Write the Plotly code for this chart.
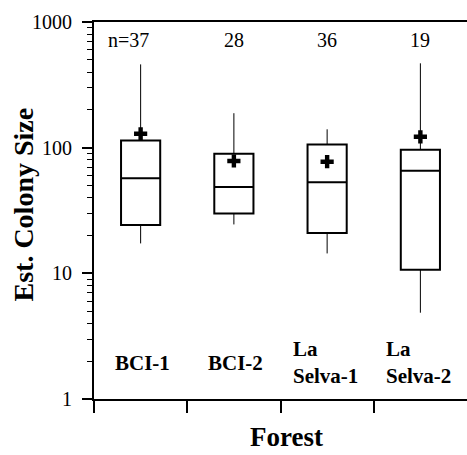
import numpy as np
import plotly.graph_objects as go

# Estimated colony size per forest plot (log scale summary statistics)
forests = ["BCI-1", "BCI-2", "La<br>Selva-1", "La<br>Selva-2"]
n_counts = [37, 28, 36, 19]
upper_whisker = [460, 188, 140, 469]
q3 = [114, 89.5, 106, 96.4]
median = [57, 48.7, 53, 65.6]
q1 = [24.3, 30, 20.9, 10.7]
lower_whisker = [17.3, 24.5, 14.4, 4.86]
mean = [129, 78.3, 77.3, 122]

y_tickvals = [1, 10, 100, 1000]
y_ticktext = ["1", "10", "100", "1000"]

FONT = "Liberation Serif"
pos = list(range(len(forests)))

fig = go.Figure()

# Boxes (quartiles + median)
for i in pos:
    fig.add_trace(go.Box(
        x=[i], q1=[q1[i]], median=[median[i]], q3=[q3[i]],
        lowerfence=[q1[i]], upperfence=[q3[i]],
        width=0.42, whiskerwidth=0,
        line=dict(color="black", width=2),
        fillcolor="white", boxpoints=False, showlegend=False,
        hoverinfo="skip",
    ))

# Whiskers drawn as thin lines
wx, wy = [], []
for i in pos:
    wx += [i, i, None, i, i, None]
    wy += [q3[i], upper_whisker[i], None, q1[i], lower_whisker[i], None]
fig.add_trace(go.Scatter(x=wx, y=wy, mode="lines",
                         line=dict(color="black", width=1),
                         showlegend=False, hoverinfo="skip"))

# Mean markers
fig.add_trace(go.Scatter(
    x=pos, y=mean, mode="markers",
    marker=dict(symbol="cross", size=11, color="black", line=dict(width=0)),
    showlegend=False, hoverinfo="skip",
))

# Sample sizes across the top
for i in pos:
    label = f"n={n_counts[i]}" if i == 0 else str(n_counts[i])
    fig.add_annotation(
        x=i, y=np.log10(720), xref="x", yref="y", text=label,
        showarrow=False, xanchor="center", yanchor="middle",
        xshift=-12 if i == 0 else 0,
        font=dict(family=FONT, size=20, color="black"),
    )

# Forest names inside the plot area
for i in pos:
    two_line = "<br>" in forests[i]
    fig.add_annotation(
        x=i, y=np.log10(1.94), xref="x", yref="y", text=f"<b>{forests[i]}</b>",
        showarrow=False, xanchor="left" if two_line else "center",
        yanchor="middle", align="left",
        xshift=-36 if two_line else 2,
        font=dict(family=FONT, size=21, color="black"),
    )

# Axis titles
fig.add_annotation(
    x=0, y=0.5, xref="paper", yref="paper", text="<b>Est. Colony Size</b>",
    textangle=-90, showarrow=False, xanchor="center", yanchor="middle",
    xshift=-71, yshift=6, font=dict(family=FONT, size=28, color="black"),
)
fig.add_annotation(
    x=0.515, y=0, xref="paper", yref="paper", text="<b>Forest</b>",
    showarrow=False, xanchor="center", yanchor="bottom",
    yshift=-55, font=dict(family=FONT, size=27, color="black"),
)

minor_vals = [m * 10 ** d for d in range(3) for m in range(2, 10)]

fig.update_layout(
    width=467, height=455,
    margin=dict(l=94, r=0, t=22, b=56),
    paper_bgcolor="white", plot_bgcolor="white",
    xaxis=dict(
        range=[-0.5, 3.5], tickvals=[-0.5, 0.5, 1.5, 2.5], ticktext=["", "", "", ""],
        ticks="outside", ticklen=12, tickwidth=1.5, tickcolor="black",
        showline=True, linecolor="black", linewidth=2, mirror=True,
        showgrid=False, zeroline=False, fixedrange=True,
    ),
    yaxis=dict(
        type="log", range=[0, 3], tickvals=y_tickvals, ticktext=y_ticktext,
        ticks="outside", ticklen=10, tickwidth=1.5, tickcolor="black",
        ticklabelstandoff=6,
        minor=dict(tickvals=minor_vals, ticks="outside", ticklen=5,
                   tickwidth=1, tickcolor="black", showgrid=False),
        showline=True, linecolor="black", linewidth=2,
        showgrid=False, zeroline=False,
        tickfont=dict(family=FONT, size=20, color="black"),
    ),
)

fig.write_html("out.html")
